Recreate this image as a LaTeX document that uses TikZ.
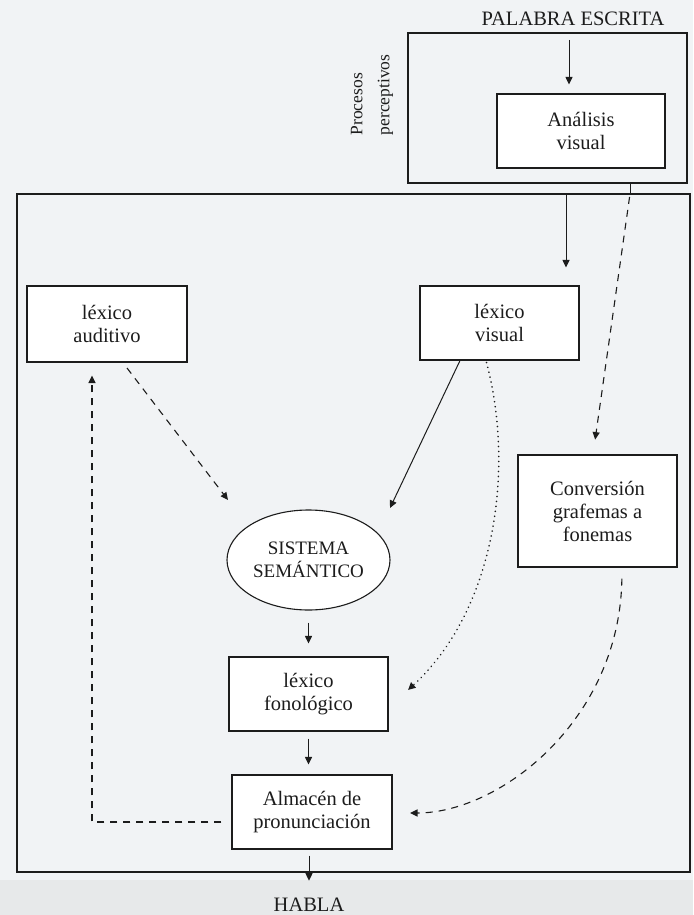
\documentclass[tikz,border=0pt]{standalone}
\usepackage{fontspec}
\setmainfont{Liberation Serif}
\usetikzlibrary{arrows.meta,shapes.geometric}
\definecolor{paper}{RGB}{241,243,245}
\definecolor{paperlow}{RGB}{231,233,234}
\definecolor{ink}{RGB}{28,28,28}
\begin{document}
\begin{tikzpicture}[x=1pt,y=-1pt,
  every node/.style={font=\fontsize{20.5}{23}\selectfont, text=ink},
  frame/.style={draw=ink, line width=1.1pt, inner sep=0pt},
  box/.style={draw=ink, line width=1.1pt, fill=white, align=center, inner sep=0pt},
  arr/.style={draw=ink, line width=1pt, -{Triangle[length=7.5pt,width=7pt]}},
  dsh/.style={arr, line width=1.1pt, dash pattern=on 7pt off 6pt},
  dot/.style={arr, line width=1.7pt, dash pattern=on 0.1pt off 4.9pt, line cap=round}
]
\useasboundingbox (0,0) rectangle (693,915);
\fill[paper] (0,0) rectangle (693,915);
\fill[paperlow] (0,880) rectangle (693,915);

% frames
\node[frame, minimum width=279pt, minimum height=150pt] (top) at (547.5,108) {};
\node[frame, minimum width=673pt, minimum height=678pt] (big) at (353.5,533) {};

% texts and boxes
\node (pal) at (573,19) {PALABRA ESCRITA};
\node[rotate=90, align=left, font=\fontsize{17.5}{27}\selectfont] (proc) at (372,95) {Procesos\\perceptivos};
\node[box, minimum width=168pt, minimum height=74pt] (an) at (581,131) {Análisis\\visual};
\node[box, minimum width=160pt, minimum height=76pt] (la) at (107,324) {léxico\\auditivo};
\node[box, minimum width=159pt, minimum height=74pt] (lv) at (499.5,323) {léxico\\visual};
\node[ellipse, draw=ink, line width=1.1pt, fill=white, minimum width=163pt, minimum height=100pt, inner sep=0pt, align=center, font=\fontsize{19}{23}\selectfont] (sem) at (308.5,560) {SISTEMA\\SEMÁNTICO};
\node[box, minimum width=159pt, minimum height=112pt] (conv) at (597.5,511) {Conversión\\grafemas a\\fonemas};
\node[box, minimum width=159pt, minimum height=74pt] (lf) at (308.5,694) {léxico\\fonológico};
\node[box, minimum width=160pt, minimum height=74pt] (alm) at (312,812) {Almacén de\\pronunciación};
\node (habla) at (309,905) {HABLA};

% coordinates
\coordinate (p1) at (569,40);
\coordinate (b1) at (566,194);
\coordinate (t1) at (630,183);
\coordinate (t2) at (630,194);
\coordinate (la1) at (127,368);
\coordinate (sm1) at (228,500);
\coordinate (sm2) at (390,508);
\coordinate (lf1) at (408,690);
\coordinate (al1) at (410,813);
\coordinate (r1) at (92,822);

% connectors
\draw[arr, shorten >=9pt] (p1) -- (p1 |- an.north);
\draw[arr, shorten >=18pt] (b1) -- (b1 |- lv.north);
\draw[draw=ink, line width=1pt] (t1) -- (t2);
\draw[dsh, shorten <=3pt, shorten >=15pt] (t2) -- ([xshift=-4.5pt]conv.north);
\draw[dsh] (la1) -- (sm1);
\draw[arr] ([xshift=-39.5pt]lv.south) -- (sm2);
\draw[dot, shorten <=2pt] ([xshift=-13.5pt]lv.south) .. controls (515,470) and (495,610) .. (lf1);
\draw[arr, shorten <=12pt, shorten >=13pt] (sem.south) -- (sem.south |- lf.north);
\draw[arr, shorten <=7pt, shorten >=10pt] (lf.south) -- (lf.south |- alm.north);
\draw[arr, shorten <=6pt, shorten >=14pt] ([xshift=-3pt]alm.south) -- (habla.north);
\draw[dsh, shorten <=11pt] ([xshift=24.5pt]conv.south) .. controls (620,720) and (500,813) .. (al1);
\draw[dsh, shorten >=13pt] ([xshift=-10pt,yshift=-10pt]alm.west) -- (r1) -- (r1 |- la.south);
\end{tikzpicture}
\end{document}
